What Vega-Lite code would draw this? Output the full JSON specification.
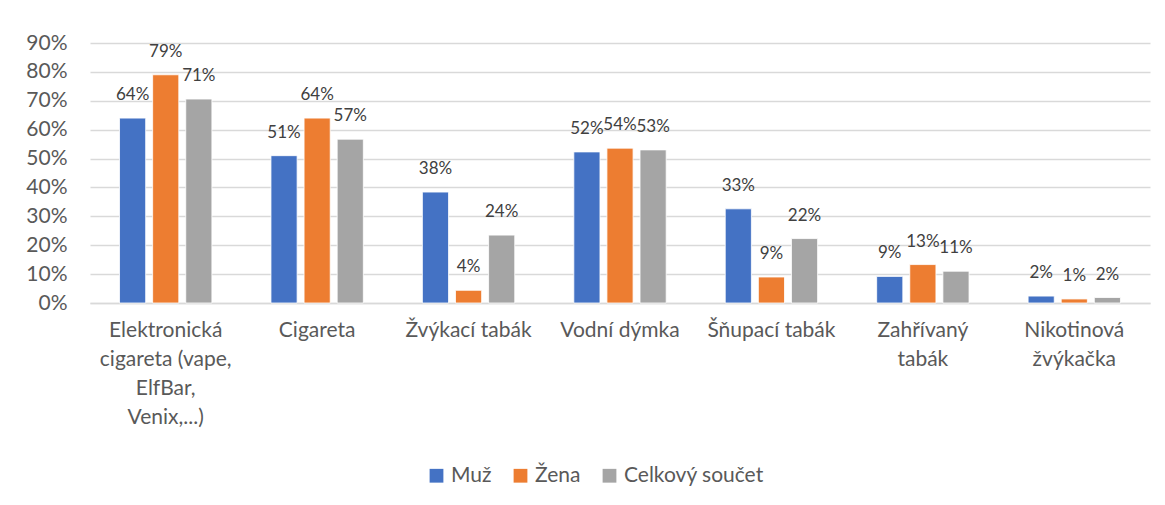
{
  "$schema": "https://vega.github.io/schema/vega-lite/v6.json",
  "autosize": "none",
  "width": 1060,
  "height": 260,
  "padding": {"left": 90, "top": 43, "right": 15, "bottom": 202},
  "background": "white",
  "data": {
    "values": [
      {"kategorie": "Elektronická cigareta (vape, ElfBar, Venix,...)", "skupina": "Muž", "podil": 0.64},
      {"kategorie": "Elektronická cigareta (vape, ElfBar, Venix,...)", "skupina": "Žena", "podil": 0.79},
      {"kategorie": "Elektronická cigareta (vape, ElfBar, Venix,...)", "skupina": "Celkový součet", "podil": 0.706},
      {"kategorie": "Cigareta", "skupina": "Muž", "podil": 0.51},
      {"kategorie": "Cigareta", "skupina": "Žena", "podil": 0.64},
      {"kategorie": "Cigareta", "skupina": "Celkový součet", "podil": 0.567},
      {"kategorie": "Žvýkací tabák", "skupina": "Muž", "podil": 0.384},
      {"kategorie": "Žvýkací tabák", "skupina": "Žena", "podil": 0.044},
      {"kategorie": "Žvýkací tabák", "skupina": "Celkový součet", "podil": 0.235},
      {"kategorie": "Vodní dýmka", "skupina": "Muž", "podil": 0.523},
      {"kategorie": "Vodní dýmka", "skupina": "Žena", "podil": 0.536},
      {"kategorie": "Vodní dýmka", "skupina": "Celkový součet", "podil": 0.53},
      {"kategorie": "Šňupací tabák", "skupina": "Muž", "podil": 0.326},
      {"kategorie": "Šňupací tabák", "skupina": "Žena", "podil": 0.09},
      {"kategorie": "Šňupací tabák", "skupina": "Celkový součet", "podil": 0.223},
      {"kategorie": "Zahřívaný tabák", "skupina": "Muž", "podil": 0.092},
      {"kategorie": "Zahřívaný tabák", "skupina": "Žena", "podil": 0.133},
      {"kategorie": "Zahřívaný tabák", "skupina": "Celkový součet", "podil": 0.11},
      {"kategorie": "Nikotinová žvýkačka", "skupina": "Muž", "podil": 0.024},
      {"kategorie": "Nikotinová žvýkačka", "skupina": "Žena", "podil": 0.014},
      {"kategorie": "Nikotinová žvýkačka", "skupina": "Celkový součet", "podil": 0.019}
    ]
  },
  "encoding": {
    "x": {
      "field": "kategorie",
      "type": "nominal",
      "sort": null,
      "scale": {"paddingInner": 0.39, "paddingOuter": 0.195},
      "axis": {
        "title": null,
        "labelAngle": 0,
        "labelFontSize": 21,
        "labelLineHeight": 29,
        "labelPadding": 16,
        "labelColor": "#595959",
        "labelFont": "Lato",
        "labelLimit": 300,
        "ticks": false,
        "domain": true,
        "domainColor": "#d9d9d9",
        "domainWidth": 1.5,
        "labelExpr": "datum.value == 'Elektronická cigareta (vape, ElfBar, Venix,...)' ? ['Elektronická', 'cigareta (vape,', 'ElfBar,', 'Venix,...)'] : datum.value == 'Zahřívaný tabák' ? ['Zahřívaný', 'tabák'] : datum.value == 'Nikotinová žvýkačka' ? ['Nikotinová', 'žvýkačka'] : datum.value"
      }
    },
    "xOffset": {
      "field": "skupina",
      "type": "nominal",
      "sort": ["Muž", "Žena", "Celkový součet"],
      "scale": {"paddingInner": 0.21, "paddingOuter": 0}
    },
    "y": {
      "field": "podil",
      "type": "quantitative",
      "scale": {"domain": [0, 0.9], "nice": false},
      "axis": {
        "title": null,
        "values": [0, 0.1, 0.2, 0.3, 0.4, 0.5, 0.6, 0.7, 0.8, 0.9],
        "format": ".0%",
        "labelFontSize": 21,
        "labelColor": "#595959",
        "labelFont": "Lato",
        "labelPadding": 23,
        "ticks": false,
        "domain": false,
        "gridColor": "#d9d9d9",
        "gridWidth": 1.5
      }
    }
  },
  "layer": [
    {
      "mark": {"type": "bar", "stroke": "white", "strokeWidth": 0.8},
      "encoding": {
        "color": {
          "field": "skupina",
          "type": "nominal",
          "sort": ["Muž", "Žena", "Celkový součet"],
          "scale": {"domain": ["Muž", "Žena", "Celkový součet"], "range": ["#4472C4", "#ED7D31", "#A5A5A5"]},
          "legend": {
            "title": null,
            "orient": "none",
            "legendX": 336,
            "legendY": 422,
            "direction": "horizontal",
            "symbolType": "square",
            "symbolSize": 190,
            "symbolStrokeWidth": 0,
            "symbolOpacity": 1,
            "labelFontSize": 21,
            "labelFont": "Lato",
            "labelColor": "#595959",
            "labelOffset": 4,
            "columnPadding": 18
          }
        }
      }
    },
    {
      "mark": {"type": "text", "baseline": "bottom", "dy": -14, "fontSize": 17, "font": "Lato", "color": "#404040"},
      "encoding": {
        "text": {"field": "podil", "type": "quantitative", "format": ".0%"}
      }
    }
  ],
  "config": {
    "view": {"stroke": null}
  }
}
